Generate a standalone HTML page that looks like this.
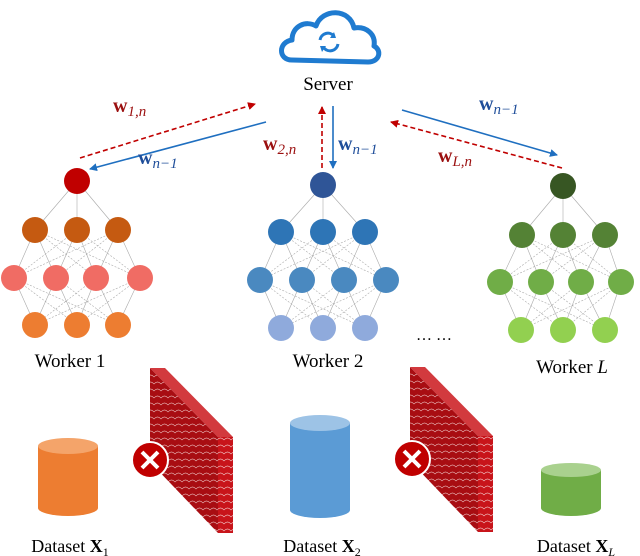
<!DOCTYPE html>
<html><head><meta charset="utf-8"><style>
html,body{margin:0;padding:0;background:#fff;width:640px;height:556px;overflow:hidden}
svg text{font-family:"Liberation Serif",serif}
</style></head><body>
<svg id="s" width="640" height="556" viewBox="0 0 640 556" xmlns="http://www.w3.org/2000/svg">
<defs>
<marker id="ab" markerWidth="8" markerHeight="8" refX="7" refY="4" orient="auto" markerUnits="userSpaceOnUse"><path d="M0,0 L8,4 L0,8 z" fill="#1f6fc0"/></marker>
<marker id="ar" markerWidth="8" markerHeight="8" refX="7" refY="4" orient="auto" markerUnits="userSpaceOnUse"><path d="M0,0 L8,4 L0,8 z" fill="#c00000"/></marker>
<pattern id="brick" width="7" height="7" patternUnits="userSpaceOnUse">
<rect width="7" height="7" fill="#a80d12"/><path d="M0,6 Q3.5,2 7,6" stroke="#e6b0b0" stroke-width="0.7" fill="none"/></pattern>
<pattern id="brick2" width="7" height="7" patternUnits="userSpaceOnUse">
<rect width="7" height="7" fill="#c8141a"/><path d="M0,6 Q3.5,2 7,6" stroke="#f0c0c0" stroke-width="0.7" fill="none"/></pattern>
</defs>
<!-- cloud -->
<path d="M292,60 C278,60 278,42 292,40 C292,26 306,20 316,26 C322,8 350,8 354,28 C366,26 376,34 374,46 C382,50 380,62 368,62 Z" fill="#fff" stroke="#1f7bd0" stroke-width="5" stroke-linejoin="round"/>
<path d="M320,40 a8,8 0 0 1 14,-4" stroke="#1f7bd0" stroke-width="3" fill="none"/>
<path d="M334,32 l2,6 l-6,0z" fill="#1f7bd0"/>
<path d="M338,44 a8,8 0 0 1 -14,4" stroke="#1f7bd0" stroke-width="3" fill="none"/>
<path d="M322,52 l-2,-6 l6,0z" fill="#1f7bd0"/>
<text x="328" y="90" font-size="19" text-anchor="middle">Server</text>
<!-- arrows -->
<line x1="80" y1="158" x2="255" y2="104" stroke="#c00000" stroke-width="1.6" stroke-dasharray="5,3" marker-end="url(#ar)"/>
<line x1="266" y1="122" x2="90" y2="169" stroke="#1f6fc0" stroke-width="1.6" marker-end="url(#ab)"/>
<line x1="322" y1="168" x2="322" y2="107" stroke="#c00000" stroke-width="1.6" stroke-dasharray="5,3" marker-end="url(#ar)"/>
<line x1="333" y1="106" x2="333" y2="168" stroke="#1f6fc0" stroke-width="1.6" marker-end="url(#ab)"/>
<line x1="402" y1="110" x2="557" y2="155" stroke="#1f6fc0" stroke-width="1.6" marker-end="url(#ab)"/>
<line x1="562" y1="168" x2="391" y2="122" stroke="#c00000" stroke-width="1.6" stroke-dasharray="5,3" marker-end="url(#ar)"/>
<g font-size="20" font-weight="bold">
<text x="113" y="112" fill="#9b1010">w<tspan font-size="15" font-weight="normal" font-style="italic" dy="4">1,n</tspan></text>
<text x="138" y="164" fill="#1f4e9a">w<tspan font-size="15" font-weight="normal" font-style="italic" dy="4">n−1</tspan></text>
<text x="263" y="150" fill="#9b1010">w<tspan font-size="15" font-weight="normal" font-style="italic" dy="4">2,n</tspan></text>
<text x="338" y="150" fill="#1f4e9a">w<tspan font-size="15" font-weight="normal" font-style="italic" dy="4">n−1</tspan></text>
<text x="438" y="162" fill="#9b1010">w<tspan font-size="15" font-weight="normal" font-style="italic" dy="4">L,n</tspan></text>
<text x="479" y="110" fill="#1f4e9a">w<tspan font-size="15" font-weight="normal" font-style="italic" dy="4">n−1</tspan></text>
</g>
<g id="nets"></g>
<text x="70" y="367" font-size="19" text-anchor="middle">Worker 1</text>
<text x="328" y="367" font-size="19" text-anchor="middle">Worker 2</text>
<text x="572" y="373" font-size="19" text-anchor="middle">Worker <tspan font-style="italic">L</tspan></text>
<text x="434" y="340" font-size="16" text-anchor="middle">… …</text>
<!-- walls -->
<g>
<path d="M218,437 L233,437 L233,533 L218,533 Z" fill="url(#brick2)"/>
<path d="M150,368 L165,368 L233,437 L218,437 Z" fill="#d23a3e"/>
<path d="M150,368 L218,437 L218,533 L150,462 Z" fill="url(#brick)"/>
<circle cx="150" cy="460" r="18" fill="#c00000" stroke="#fff" stroke-width="2"/>
<path d="M142,452 l16,16 M158,452 l-16,16" stroke="#fff" stroke-width="4"/>
</g>
<g transform="translate(260,-1)">
<path d="M218,437 L233,437 L233,533 L218,533 Z" fill="url(#brick2)"/>
<path d="M150,368 L165,368 L233,437 L218,437 Z" fill="#d23a3e"/>
<path d="M150,368 L218,437 L218,533 L150,462 Z" fill="url(#brick)"/>
<circle cx="152" cy="460" r="18" fill="#c00000" stroke="#fff" stroke-width="2"/>
<path d="M144,452 l16,16 M160,452 l-16,16" stroke="#fff" stroke-width="4"/>
</g>
<!-- cylinders -->
<path d="M38,446 V508 A30,8 0 0 0 98,508 V446 Z" fill="#ed7d31"/><ellipse cx="68" cy="446" rx="30" ry="8" fill="#f4a46a"/>
<path d="M290,423 V510 A30,8 0 0 0 350,510 V423 Z" fill="#5b9bd5"/><ellipse cx="320" cy="423" rx="30" ry="8" fill="#9dc3e6"/>
<path d="M541,470 V508 A30,8 0 0 0 601,508 V470 Z" fill="#70ad47"/><ellipse cx="571" cy="470" rx="30" ry="7" fill="#a9d18e"/>
<g font-size="18">
<text x="70" y="552" text-anchor="middle">Dataset <tspan font-weight="bold">X</tspan><tspan font-size="12" dy="4">1</tspan></text>
<text x="322" y="552" text-anchor="middle">Dataset <tspan font-weight="bold">X</tspan><tspan font-size="12" dy="4">2</tspan></text>
<text x="576" y="552" text-anchor="middle">Dataset <tspan font-weight="bold">X</tspan><tspan font-size="12" font-style="italic" dy="4">L</tspan></text>
</g>
</svg>
<script>
var g=document.getElementById('nets');
function net(t,l2,l3,l4,ys,cols){
 var L=[[t],l2,l3,l4],s='';
 for(var i=0;i<3;i++)for(var a of L[i])for(var b of L[i+1])
  s+='<line x1="'+a+'" y1="'+ys[i]+'" x2="'+b+'" y2="'+ys[i+1]+'" stroke="#aaa" stroke-width="0.6"'+(i>0&&Math.abs(a-b)>50?' stroke-dasharray="2,1.5"':'')+'/>';
 for(var i=0;i<4;i++)for(var x of L[i])s+='<circle cx="'+x+'" cy="'+ys[i]+'" r="13" fill="'+cols[i]+'"/>';
 g.insertAdjacentHTML('beforeend',s);
}
net(77,[35,77,118],[14,56,96,140],[35,77,118],[181,230,278,325],['#c00000','#c55a11','#f06c64','#ed7d31']);
net(323,[281,323,365],[260,302,344,386],[281,323,365],[185,232,280,328],['#2f5597','#2e75b6','#4a89c0','#8faadc']);
net(563,[522,563,605],[500,541,581,621],[521,563,605],[186,235,282,330],['#375623','#548235','#70ad47','#92d050']);
</script>
</body></html>
